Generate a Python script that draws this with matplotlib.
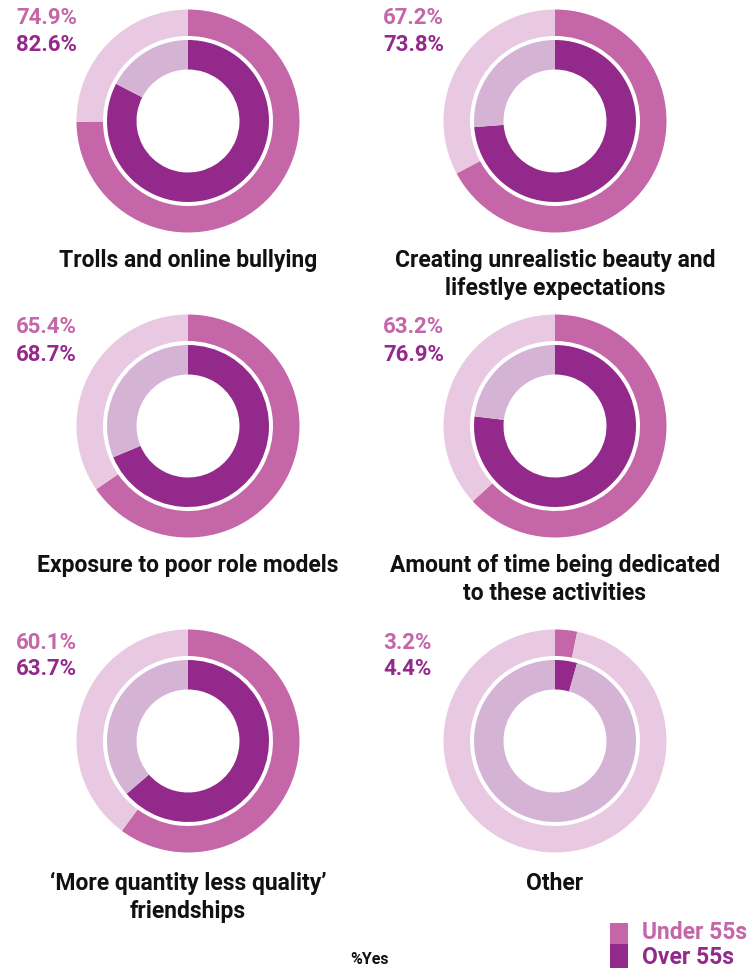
import matplotlib.pyplot as plt

# data
categories = [
    "Trolls and online bullying",
    "Creating unrealistic beauty and\nlifestlye expectations",
    "Exposure to poor role models",
    "Amount of time being dedicated\nto these activities",
    "\u2018More quantity less quality\u2019\nfriendships",
    "Other",
]
under55 = [74.9, 67.2, 65.4, 63.2, 60.1, 3.2]
over55 = [82.6, 73.8, 68.7, 76.9, 63.7, 4.4]

c_under = '#C466A8'
c_under_rest = '#E9C9E1'
c_over = '#93298B'
c_over_rest = '#D4B3D4'

W, H = 748, 970
fig = plt.figure(figsize=(W / 100, H / 100), dpi=100)
ax = fig.add_axes([0, 0, 1, 1])

plt.rcParams['font.family'] = ['Roboto', 'DejaVu Sans']

col_x = [188, 555]
row_y = [122, 427, 742]          # donut centres, pixels from top
pct_y = [(18, 45), (327, 355), (643, 669)]
label_y = [262, 567, 885]        # first label line
r_out, r_out_in = 111.5, 85
r_in, r_in_in = 81, 51.5

for i, name in enumerate(categories):
    r = i // 2
    cx = col_x[i % 2]
    cy = H - row_y[r]
    u, o = under55[i], over55[i]
    ax.pie([u, 100 - u], colors=[c_under, c_under_rest], radius=r_out,
           center=(cx, cy), startangle=90, counterclock=False,
           wedgeprops=dict(width=r_out - r_out_in, linewidth=0))
    ax.pie([o, 100 - o], colors=[c_over, c_over_rest], radius=r_in,
           center=(cx, cy), startangle=90, counterclock=False,
           wedgeprops=dict(width=r_in - r_in_in, linewidth=0))

    tx = cx - 172
    ax.text(tx, H - pct_y[r][0], f"{u:.1f}%", color=c_under, fontsize=16,
            fontweight='bold', ha='left', va='center')
    ax.text(tx, H - pct_y[r][1], f"{o:.1f}%", color=c_over, fontsize=16,
            fontweight='bold', ha='left', va='center')

    ax.text(cx, H - (label_y[r] - 13), name, fontsize=16.5, fontweight='bold',
            ha='center', va='top', linespacing=1.25, color='#111111')

# legend
ax.add_patch(plt.Rectangle((610, H - 945), 18, 21, color=c_under, lw=0))
ax.add_patch(plt.Rectangle((610, H - 969), 18, 24, color=c_over, lw=0))
ax.text(642, H - 933, "Under 55s", color=c_under, fontsize=16.5, fontweight='bold',
        ha='left', va='center')
ax.text(642, H - 958, "Over 55s", color=c_over, fontsize=16.5, fontweight='bold',
        ha='left', va='center')
ax.text(370, H - 960, "%Yes", fontsize=11.5, fontweight='bold', ha='center',
        va='center', color='#111111')

ax.set_xlim(0, W)
ax.set_ylim(0, H)
ax.set_aspect('equal')
ax.axis('off')

fig.savefig('out.png', dpi=100, facecolor='white')
